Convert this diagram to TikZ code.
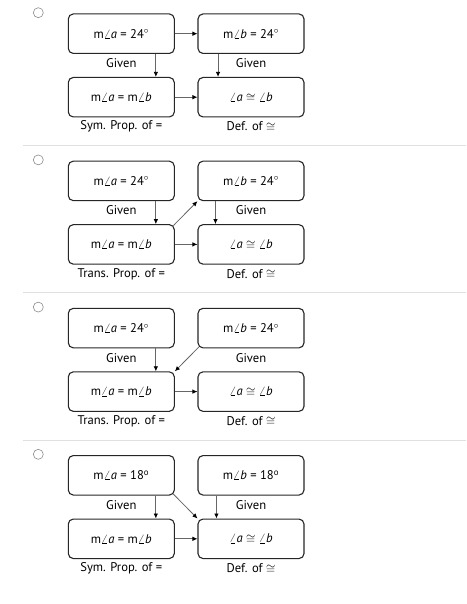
\documentclass[tikz,border=0pt]{standalone}
\usepackage{fontspec}
\setmainfont{PT Sans}
\usetikzlibrary{shapes, arrows, arrows.meta}
\tikzstyle{stmt} = [rectangle, rounded corners=5pt, minimum width=106pt, minimum height=39.5pt, text centered, draw=black!85, line width=1.1pt, font=\fontsize{12.6}{14}\selectfont]
\tikzstyle{reason} = [text centered, inner sep=0pt, font=\fontsize{12.6}{14}\selectfont]
\tikzstyle{radio} = [circle, draw=black!45, minimum size=10pt, inner sep=0pt, line width=0.6pt]
\tikzstyle{sep} = [draw=black!12, line width=1pt]
\tikzstyle{line} = [draw=black!60, line width=0.8pt, -{Latex[black, length=5pt, width=4.5pt]}]
\newcommand{\angl}[1]{$\angle$\textit{#1}}
\newcommand{\congr}{$\cong$}

\begin{document}
\begin{tikzpicture}[x=1pt, y=1pt, node distance=63.5pt]
            \useasboundingbox (0,0) rectangle (466,-604);

            % Nodes of panels
            % Panel 1
            \node (A1) [stmt] at (121.3,-33.7) {m\angl{a} = 24$^{\circ}$};
            \node (B1) [stmt, right of=A1, xshift=66.2pt] {m\angl{b} = 24$^{\circ}$};
            \node (C1) [stmt, below of=A1] {m\angl{a} = m\angl{b}};
            \node (D1) [stmt, right of=C1, xshift=66.2pt] {\angl{a} \congr{} \angl{b}};
            \node (ga1) [reason, below of=A1, yshift=34pt] {Given};
            \node (gb1) [reason, below of=B1, yshift=34pt] {Given};
            \node (rc1) [reason, below of=C1, yshift=34pt] {Sym. Prop. of =};
            \node (rd1) [reason, below of=D1, yshift=34pt] {Def. of \congr};
            \node (radio1) [radio, left of=A1, xshift=-19.5pt, yshift=21pt] {};

            % Panel 2
            \node (A2) [stmt, below of=C1, yshift=-20.2pt] {m\angl{a} = 24$^{\circ}$};
            \node (B2) [stmt, right of=A2, xshift=66.2pt] {m\angl{b} = 24$^{\circ}$};
            \node (C2) [stmt, below of=A2] {m\angl{a} = m\angl{b}};
            \node (D2) [stmt, right of=C2, xshift=66.2pt] {\angl{a} \congr{} \angl{b}};
            \node (ga2) [reason, below of=A2, yshift=34pt] {Given};
            \node (gb2) [reason, below of=B2, yshift=34pt] {Given};
            \node (rc2) [reason, below of=C2, yshift=34pt] {Trans. Prop. of =};
            \node (rd2) [reason, below of=D2, yshift=34pt] {Def. of \congr};
            \node (radio2) [radio, left of=A2, xshift=-19.5pt, yshift=21pt] {};

            % Panel 3
            \node (A3) [stmt, below of=C2, yshift=-20.2pt] {m\angl{a} = 24$^{\circ}$};
            \node (B3) [stmt, right of=A3, xshift=66.2pt] {m\angl{b} = 24$^{\circ}$};
            \node (C3) [stmt, below of=A3] {m\angl{a} = m\angl{b}};
            \node (D3) [stmt, right of=C3, xshift=66.2pt] {\angl{a} \congr{} \angl{b}};
            \node (ga3) [reason, below of=A3, yshift=34pt] {Given};
            \node (gb3) [reason, below of=B3, yshift=34pt] {Given};
            \node (rc3) [reason, below of=C3, yshift=34pt] {Trans. Prop. of =};
            \node (rd3) [reason, below of=D3, yshift=34pt] {Def. of \congr};
            \node (radio3) [radio, left of=A3, xshift=-19.5pt, yshift=21pt] {};

            % Panel 4
            \node (A4) [stmt, below of=C3, yshift=-20.2pt] {m\angl{a} = 18\textsuperscript{o}};
            \node (B4) [stmt, right of=A4, xshift=66.2pt] {m\angl{b} = 18\textsuperscript{o}};
            \node (C4) [stmt, below of=A4] {m\angl{a} = m\angl{b}};
            \node (D4) [stmt, right of=C4, xshift=66.2pt] {\angl{a} \congr{} \angl{b}};
            \node (ga4) [reason, below of=A4, yshift=34pt] {Given};
            \node (gb4) [reason, below of=B4, yshift=34pt] {Given};
            \node (rc4) [reason, below of=C4, yshift=34pt] {Sym. Prop. of =};
            \node (rd4) [reason, below of=D4, yshift=34pt] {Def. of \congr};
            \node (radio4) [radio, left of=A4, xshift=-19.5pt, yshift=21pt] {};

            % Separators
            \draw [sep] (23,-145.7) -- (466,-145.7);
            \draw [sep] (23,-292.9) -- (466,-292.9);
            \draw [sep] (23,-440.1) -- (466,-440.1);

            % Draw lines
            % Panel 1
            \path [line] (A1) -- (B1);
            \path [line] ([xshift=-19pt] A1.south east) -- ([xshift=-19pt] C1.north east);
            \path [line] ([xshift=20.6pt] B1.south west) -- ([xshift=20.6pt] D1.north west);
            \path [line] (C1) -- (D1);

            % Panel 2
            \path [line] ([xshift=-19pt] A2.south east) -- ([xshift=-19pt] C2.north east);
            \path [line] ([xshift=18pt] B2.south west) -- ([xshift=18pt] D2.north west);
            \path [line] (C2) -- (D2);
            \path [line] ([shift={(-1.5pt,-1.5pt)}] C2.north east) -- (B2.south west);

            % Panel 3
            \path [line] ([xshift=-19pt] A3.south east) -- ([xshift=-19pt] C3.north east);
            \path [line] ([shift={(1.5pt,1.5pt)}] B3.south west) -- (C3.north east);
            \path [line] (C3) -- (D3);

            % Panel 4
            \path [line] ([xshift=-19pt] A4.south east) -- ([xshift=-19pt] C4.north east);
            \path [line] ([shift={(-1.5pt,1.5pt)}] A4.south east) -- (D4.north west);
            \path [line] ([xshift=19pt] B4.south west) -- ([xshift=19pt] D4.north west);
            \path [line] (C4) -- (D4);
        \end{tikzpicture}
\end{document}
